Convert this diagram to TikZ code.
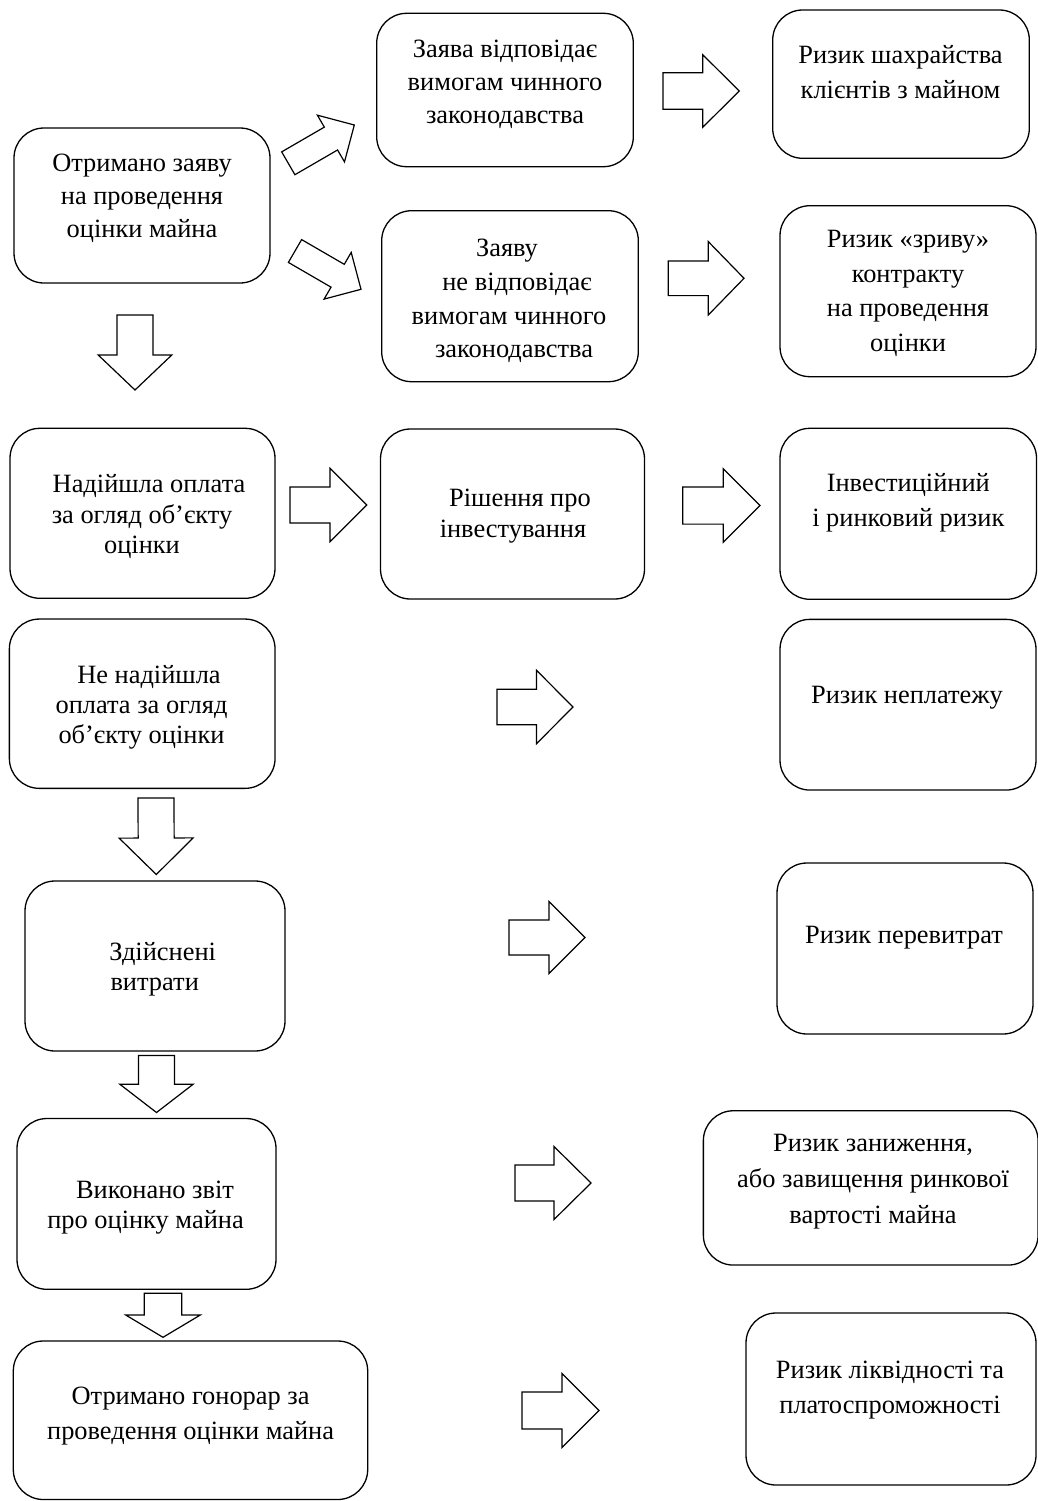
\documentclass[tikz,border=0pt]{standalone}
\usepackage{fontspec}
\setmainfont{Liberation Serif}
\usetikzlibrary{calc}
\newcommand\fs[1]{\fontsize{26.4}{#1}\selectfont}
\tikzset{
  rbox/.style={draw, line width=1.3pt, rounded corners=30pt, inner sep=0pt, outer sep=0pt},
  txt/.style={align=center, inner sep=0pt, anchor=north},
  barrow/.style={draw, line width=1.2pt, line join=miter},
}
% #1 tail coordinate, #2 tip coordinate, #3 shaft half width, #4 head half width, #5 head length
\newcommand\blockarrow[5]{%
  \coordinate (#2j) at ($(#2)!#5pt!(#1)$);
  \draw[barrow] ($(#1)!#3pt!90:(#2)$) -- ($(#2j)!#3pt!90:(#2)$) -- ($(#2j)!#4pt!90:(#2)$)
    -- (#2) -- ($(#2j)!#4pt!-90:(#2)$) -- ($(#2j)!#3pt!-90:(#2)$) -- ($(#1)!#3pt!-90:(#2)$) -- cycle;
}
\begin{document}
\begin{tikzpicture}[x=1pt,y=-1pt]
\useasboundingbox (0,0) rectangle (1037,1501);

% boxes
\node[rbox, minimum width=256pt, minimum height=155pt] (A) at (142,205.5) {};
\node[rbox, minimum width=256.6pt, minimum height=153.4pt] (B) at (505,90) {};
\node[rbox, minimum width=256.6pt, minimum height=148.3pt] (C) at (901,84.15) {};
\node[rbox, minimum width=256.6pt, minimum height=171pt] (D) at (510,296.2) {};
\node[rbox, minimum width=256pt, minimum height=171pt] (E) at (908,291.2) {};
\node[rbox, minimum width=265pt, minimum height=170pt] (F) at (142.5,513.3) {};
\node[rbox, minimum width=264pt, minimum height=170pt] (G) at (512.5,514) {};
\node[rbox, minimum width=256.5pt, minimum height=171pt] (H) at (908.25,513.8) {};
\node[rbox, minimum width=265.7pt, minimum height=169.3pt] (I) at (142.2,703.7) {};
\node[rbox, minimum width=256pt, minimum height=170.7pt] (J) at (908,704.7) {};
\node[rbox, minimum width=260pt, minimum height=170pt] (K) at (155,966) {};
\node[rbox, minimum width=256pt, minimum height=171pt] (L) at (905,948.5) {};
\node[rbox, minimum width=259pt, minimum height=170.8pt] (M) at (146.5,1203.9) {};
\node[rbox, minimum width=334.7pt, minimum height=154.3pt] (N) at (870.7,1187.9) {};
\node[rbox, minimum width=354.4pt, minimum height=158.5pt] (O) at (190.5,1420.25) {};
\node[rbox, minimum width=290pt, minimum height=172pt] (P) at (891,1399) {};

% texts
\node[txt, font=\fs{33}] (tA) at (142,147.9) {\strut Отримано заяву\\\strut на проведення\\\strut оцінки майна};
\node[txt, font=\fs{33}] (tB) at (505,34.4) {\strut Заява відповідає\\\strut вимогам чинного\\\strut законодавства};
\node[txt, font=\fs{35}] (tC) at (900.5,39) {\strut Ризик шахрайства\\\strut клієнтів з майном};
\node[txt, font=\fs{33.7}] (tD) at (509,232.9) {\strut Заяву\hspace*{4pt}\\\strut\hspace*{16pt}не відповідає\\\strut вимогам чинного\\\strut\hspace*{10pt}законодавства};
\node[txt, font=\fs{34.5}] (tE) at (908,223.35) {\strut Ризик «зриву»\\\strut контракту\\\strut на проведення\\\strut оцінки};
\node[txt, font=\fs{30.3}] (tF) at (142,471.5) {\strut\hspace*{14pt}Надійшла оплата\\\strut за огляд об’єкту\\\strut оцінки};
\node[txt, font=\fs{31.5}] (tG) at (513,484) {\strut\hspace*{14pt}Рішення про\\\strut інвестування};
\node[txt, font=\fs{34.3}] (tH) at (908.3,467.7) {\strut Інвестиційний\\\strut і ринковий ризик};
\node[txt, font=\fs{30}] (tI) at (141.5,662.3) {\strut\hspace*{15pt}Не надійшла\\\strut оплата за огляд\\\strut об’єкту оцінки};
\node[txt, font=\fs{30}] (tJ) at (907,682.3) {\strut Ризик неплатежу};
\node[txt, font=\fs{30}] (tK) at (154.7,939) {\strut\hspace*{16pt}Здійснені\\\strut витрати};
\node[txt, font=\fs{30}] (tL) at (904,922.3) {\strut Ризик перевитрат};
\node[txt, font=\fs{30.5}] (tM) at (145.5,1176.65) {\strut\hspace*{19pt}Виконано звіт\\\strut про оцінку майна};
\node[txt, font=\fs{36}] (tN) at (873,1126.3) {\strut Ризик заниження,\\\strut або завищення ринкової\\\strut вартості майна};
\node[txt, font=\fs{35.3}] (tO) at (190.6,1379.3) {\strut Отримано гонорар за\\\strut проведення оцінки майна};
\node[txt, font=\fs{34.3}] (tP) at (890,1354.5) {\strut Ризик ліквідності та\\\strut платоспроможності};

% block arrow end points
\coordinate (a1t) at (288.3,163.3);  \coordinate (a1h) at (354.3,125);
\coordinate (a2t) at (295,251);      \coordinate (a2h) at (361,289.3);
\coordinate (a3t) at (135,315);      \coordinate (a3h) at (135,390);
\coordinate (a4t) at (663,91);       \coordinate (a4h) at (739.3,91);
\coordinate (a5t) at (668.3,278.3);  \coordinate (a5h) at (744,278.3);
\coordinate (a6t) at (290,505);      \coordinate (a6h) at (366.7,505);
\coordinate (a7t) at (682.7,505.5);  \coordinate (a7h) at (760,505.5);
\coordinate (a8t) at (497,707);      \coordinate (a8h) at (573,707);
\coordinate (a9t) at (156,798);      \coordinate (a9h) at (156.3,874.5);
\coordinate (a10t) at (509,937.5);   \coordinate (a10h) at (585,937.5);
\coordinate (a11t) at (156.5,1055.5); \coordinate (a11h) at (156.5,1112.5);
\coordinate (a12t) at (515,1183);    \coordinate (a12h) at (591,1183);
\coordinate (a13t) at (163,1293.3);  \coordinate (a13h) at (163,1337.3);
\coordinate (a14t) at (522,1410.5);  \coordinate (a14h) at (599,1410.5);

\blockarrow{a1t}{a1h}{13.2}{27}{27}
\blockarrow{a2t}{a2h}{13.2}{27}{27}
\blockarrow{a3t}{a3h}{18}{36.8}{35}
\blockarrow{a4t}{a4h}{18.3}{36.2}{36.5}
\blockarrow{a5t}{a5h}{17.3}{36.7}{35.7}
\blockarrow{a6t}{a6h}{18}{36.7}{36.7}
\blockarrow{a7t}{a7h}{18.6}{36.7}{36.7}
\blockarrow{a8t}{a8h}{17.8}{36.7}{36.5}
\blockarrow{a9t}{a9h}{18}{37}{36.5}
\blockarrow{a10t}{a10h}{17.5}{36}{36}
\blockarrow{a11t}{a11h}{18}{36.7}{28.3}
\blockarrow{a12t}{a12h}{18}{36.5}{37}
\blockarrow{a13t}{a13h}{18.8}{37.3}{22.3}
\blockarrow{a14t}{a14h}{18.5}{37}{37}
\end{tikzpicture}
\end{document}
